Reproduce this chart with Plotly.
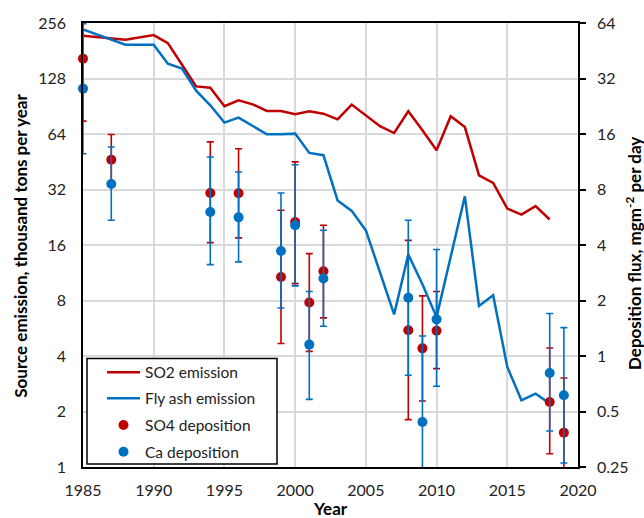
import plotly.graph_objects as go
import math

# ---- data ----
emission_years = [1985, 1988, 1990, 1991, 1992, 1993, 1994, 1995, 1996, 1997, 1998, 1999,
                  2000, 2001, 2002, 2003, 2004, 2005, 2006, 2007, 2008, 2009, 2010, 2011,
                  2012, 2013, 2014, 2015, 2016, 2017, 2018]
so2_emission = [218, 208, 220, 199, 152, 116, 114, 90.5, 97.5, 92.7, 85.3, 85.3,
                81.9, 85.0, 82.5, 76.9, 92.4, 80.8, 70.5, 64.8, 85.0, 67.0, 52.2, 79.8,
                69.8, 38.2, 34.7, 25.2, 23.4, 26.0, 22.0]
flyash_emission = [236, 195, 195, 154, 145, 110, 91.6, 73.8, 78.5, 70.5, 63.8, 63.8,
                   64.3, 50.5, 49.1, 27.9, 24.5, 19.2, 11.4, 6.73, 14.2, 9.8, 6.5, 13.8,
                   29.4, 7.47, 8.54, 3.49, 2.30, 2.50, 2.21]

dep_years = [1985, 1987, 1994, 1996, 1999, 2000, 2001, 2002, 2008, 2009, 2010, 2018, 2019]
so4_dep = [41.0, 11.6, 7.66, 7.63, 2.68, 5.33, 1.95, 2.88, 1.38, 1.10, 1.37, 0.563, 0.384]
so4_upper = [89.3, 15.9, 14.5, 13.3, 6.17, 11.3, 3.59, 5.12, 4.24, 2.12, 2.24, 1.105, 0.76]
so4_lower = [18.8, 8.47, 4.12, 4.37, 1.17, 2.47, 1.06, 1.61, 0.452, 0.570, 0.854, 0.295, 0.194]
ca_dep = [28.2, 8.57, 6.04, 5.65, 3.71, 5.12, 1.153, 2.63, 2.07, 0.439, 1.58, 0.809, 0.612]
ca_upper = [63.5, 13.6, 12.0, 9.95, 7.66, 10.9, 2.24, 4.81, 5.45, 1.284, 3.78, 1.70, 1.426]
ca_lower = [12.5, 5.45, 3.13, 3.24, 1.82, 2.40, 0.582, 1.45, 0.786, 0.150, 0.685, 0.392, 0.263]

x_ticks = [1985, 1990, 1995, 2000, 2005, 2010, 2015, 2020]
left_ticks = [1, 2, 4, 8, 16, 32, 64, 128, 256]
right_ticks = [0.25, 0.5, 1, 2, 4, 8, 16, 32, 64]
right_ticktext = ["0.25", "0.5", "1", "2", "4", "8", "16", "32", "64"]

legend_names = ["SO2 emission", "Fly ash emission", "SO4 deposition", "Ca deposition"]

RED = "#C00000"
BLUE = "#0070C0"
FONT = "Lato"
TICKC = "#222222"
GRID = "#d9d9d9"

W, H = 644, 518
ML, MR, MT, MB = 83, 66, 23, 51
PW, PH = W - ML - MR, H - MT - MB


def px(xp):
    return (xp - ML) / PW


def py(yp):
    return (H - MB - yp) / PH


fig = go.Figure()

fig.add_trace(go.Scatter(x=emission_years, y=so2_emission, mode="lines", name=legend_names[0],
                         line=dict(color=RED, width=2.5), yaxis="y", showlegend=False))
fig.add_trace(go.Scatter(x=emission_years, y=flyash_emission, mode="lines", name=legend_names[1],
                         line=dict(color=BLUE, width=2.5), yaxis="y", showlegend=False))


def err_plus(m, u):
    return [a - b for a, b in zip(u, m)]


def err_minus(m, l):
    return [a - b for a, b in zip(m, l)]


# SO4 error bars (clipped to plot) + markers (not clipped)
fig.add_trace(go.Scatter(x=dep_years, y=so4_dep, mode="markers", showlegend=False,
                         marker=dict(color="rgba(0,0,0,0)", size=1), yaxis="y2",
                         hoverinfo="skip",
                         error_y=dict(type="data", symmetric=False,
                                      array=err_plus(so4_dep, so4_upper),
                                      arrayminus=err_minus(so4_dep, so4_lower),
                                      color=RED, thickness=1.6, width=3.5)))
fig.add_trace(go.Scatter(x=dep_years, y=so4_dep, mode="markers", name=legend_names[2],
                         marker=dict(color=RED, size=10), yaxis="y2", cliponaxis=False,
                         showlegend=False))
fig.add_trace(go.Scatter(x=dep_years, y=ca_dep, mode="markers", showlegend=False,
                         marker=dict(color="rgba(0,0,0,0)", size=1), yaxis="y2",
                         hoverinfo="skip",
                         error_y=dict(type="data", symmetric=False,
                                      array=err_plus(ca_dep, ca_upper),
                                      arrayminus=err_minus(ca_dep, ca_lower),
                                      color=BLUE, thickness=1.6, width=3.5)))
fig.add_trace(go.Scatter(x=dep_years, y=ca_dep, mode="markers", name=legend_names[3],
                         marker=dict(color=BLUE, size=10), yaxis="y2", cliponaxis=False,
                         showlegend=False))

fig.update_layout(
    width=W, height=H,
    margin=dict(l=ML, r=MR, t=MT, b=MB, autoexpand=False),
    paper_bgcolor="white", plot_bgcolor="white",
    font=dict(family=FONT, size=16, color=TICKC),
    showlegend=False,
    xaxis=dict(range=[1985, 2020], tickvals=x_ticks, showgrid=True, gridcolor=GRID, gridwidth=1.5,
               showline=True, linecolor="black", linewidth=1.5, mirror=True, ticks="",
               ticklabelstandoff=8, zeroline=False, tickfont=dict(size=16, color=TICKC)),
    yaxis=dict(type="log", range=[0, math.log10(256)], tickvals=left_ticks,
               ticktext=[str(v) for v in left_ticks], showgrid=True, gridcolor=GRID, gridwidth=1.5,
               showline=True, linecolor="black", linewidth=1.5, mirror=True, ticks="",
               ticklabelstandoff=12, zeroline=False, tickfont=dict(size=16, color=TICKC)),
    yaxis2=dict(type="log", range=[math.log10(0.25), math.log10(64)], tickvals=right_ticks,
                ticktext=right_ticktext, overlaying="y", side="right", showgrid=False,
                showline=True, linecolor="black", linewidth=1.5, ticks="outside", ticklen=6,
                tickcolor="black", tickwidth=1.5, ticklabelstandoff=8, zeroline=False,
                tickfont=dict(size=16, color=TICKC)),
)

# ---- hand-built legend (box, symbols, labels) ----
fig.add_shape(type="rect", xref="paper", yref="paper", x0=px(87), x1=px(277), y0=py(358.5), y1=py(464),
              fillcolor="white", line=dict(color="black", width=1.5), layer="above")
entry_y = [372.3, 398.3, 425.0, 451.7]
for i, name in enumerate(legend_names):
    yy = py(entry_y[i])
    color = RED if i in (0, 2) else BLUE
    if i < 2:
        fig.add_shape(type="line", xref="paper", yref="paper", x0=px(107), x1=px(140), y0=yy, y1=yy,
                      line=dict(color=color, width=2.5), layer="above")
    else:
        fig.add_shape(type="circle", xref="paper", yref="paper", xsizemode="pixel", ysizemode="pixel",
                      xanchor=px(123.5), yanchor=yy, x0=-5, x1=5, y0=-5, y1=5,
                      fillcolor=color, line=dict(color=color, width=0), layer="above")
    fig.add_annotation(text=name, xref="paper", yref="paper", x=px(143), y=yy, xanchor="left",
                       yanchor="middle", showarrow=False, font=dict(size=15.5, color=TICKC, family=FONT))

fig.add_annotation(text="<b>Source emission, thousand tons per year</b>", textangle=-90,
                   xref="paper", yref="paper", x=px(21), y=py(245.7), xanchor="center", yanchor="middle",
                   showarrow=False, font=dict(size=17, color="black", family=FONT))
fig.add_annotation(text="<b>Deposition flux, mgm<sup>-2</sup> per day</b>", textangle=-90,
                   xref="paper", yref="paper", x=px(633), y=py(254), xanchor="center", yanchor="middle",
                   showarrow=False, font=dict(size=17, color="black", family=FONT))
fig.add_annotation(text="<b>Year</b>", xref="paper", yref="paper", x=0.5, y=py(508),
                   xanchor="center", yanchor="middle", showarrow=False,
                   font=dict(size=17, color="black", family=FONT))

fig.write_html("out.html")
